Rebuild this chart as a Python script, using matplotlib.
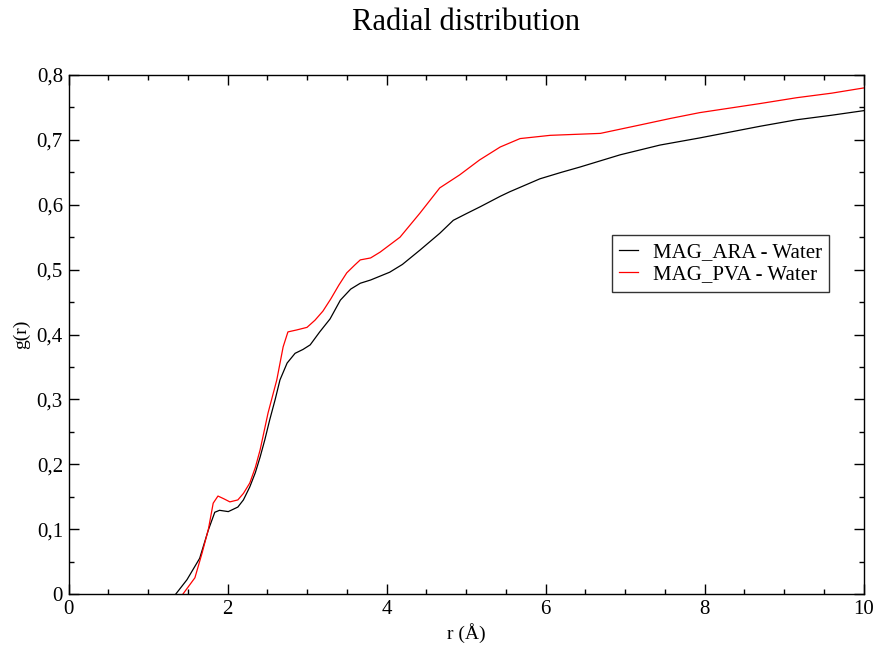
import matplotlib
matplotlib.use("Agg")
import matplotlib.pyplot as plt
from matplotlib.ticker import MultipleLocator, FuncFormatter

plt.rcParams['font.family'] = ['Liberation Serif', 'DejaVu Serif']

# g(r) for MAG_ARA - Water
r_ara = [1.35, 1.49, 1.65, 1.76, 1.84, 1.90, 2.01, 2.13, 2.20, 2.28, 2.35, 2.41, 2.47,
         2.53, 2.60, 2.66, 2.75, 2.85, 2.95, 3.04, 3.16, 3.29, 3.42, 3.55, 3.67, 3.80,
         4.04, 4.20, 4.42, 4.67, 4.84, 5.00, 5.18, 5.43, 5.55, 5.93, 6.20, 6.43, 6.94,
         7.44, 7.94, 8.32, 8.70, 9.16, 9.60, 10.0]
g_ara = [0.0, 0.022, 0.055, 0.099, 0.126, 0.129, 0.127, 0.134, 0.145, 0.165, 0.187,
         0.211, 0.238, 0.268, 0.300, 0.330, 0.356, 0.371, 0.377, 0.384, 0.404, 0.424,
         0.453, 0.470, 0.479, 0.484, 0.496, 0.508, 0.530, 0.556, 0.576, 0.586, 0.597,
         0.613, 0.620, 0.640, 0.650, 0.658, 0.677, 0.692, 0.703, 0.712, 0.721, 0.731,
         0.738, 0.745]

# g(r) for MAG_PVA - Water
r_pva = [1.44, 1.50, 1.59, 1.68, 1.76, 1.82, 1.88, 1.95, 2.03, 2.13, 2.20, 2.28, 2.35,
         2.41, 2.51, 2.62, 2.70, 2.76, 2.87, 3.00, 3.10, 3.20, 3.30, 3.40, 3.50, 3.60,
         3.67, 3.80, 3.92, 4.17, 4.42, 4.67, 4.92, 5.17, 5.43, 5.68, 6.06, 6.69, 7.19,
         7.57, 7.94, 8.32, 8.70, 9.16, 9.60, 10.0]
g_pva = [0.0, 0.010, 0.025, 0.063, 0.100, 0.140, 0.151, 0.147, 0.142, 0.145, 0.155,
         0.171, 0.195, 0.222, 0.279, 0.330, 0.381, 0.404, 0.407, 0.411, 0.422, 0.436,
         0.455, 0.476, 0.495, 0.507, 0.515, 0.518, 0.527, 0.550, 0.587, 0.626, 0.646,
         0.669, 0.689, 0.702, 0.707, 0.710, 0.723, 0.733, 0.742, 0.749, 0.756, 0.765,
         0.772, 0.780]

fig = plt.figure(figsize=(8.77, 6.48), dpi=100)
ax = fig.add_axes([68.5 / 877, 54 / 648, 795 / 877, 519 / 648])

ax.plot(r_ara, g_ara, color='black', lw=0.9, label='MAG_ARA - Water')
ax.plot(r_pva, g_pva, color='red', lw=0.9, label='MAG_PVA - Water')

ax.set_xlim(0, 10)
ax.set_ylim(0, 0.8)
ax.xaxis.set_major_locator(MultipleLocator(2))
ax.xaxis.set_minor_locator(MultipleLocator(0.5))
ax.yaxis.set_major_locator(MultipleLocator(0.1))
ax.yaxis.set_minor_locator(MultipleLocator(0.05))


def comma(v, pos):
    s = f"{v:.1f}".replace('.', ',')
    if s.endswith(',0'):
        s = s[:-2]
    return s


ax.xaxis.set_major_formatter(FuncFormatter(lambda v, p: f"{v:.0f}"))
ax.yaxis.set_major_formatter(FuncFormatter(comma))
ax.tick_params(which='both', direction='in', top=True, right=True,
               width=1.0, labelsize=15)
ax.tick_params(which='major', length=7, pad=4)
ax.tick_params(which='minor', length=3.5)
for sp in ax.spines.values():
    sp.set_linewidth(1.0)

ax.set_xlabel('r (Å)', fontsize=14, labelpad=3)
ax.set_ylabel('g(r)', fontsize=14, labelpad=5)
fig.text(466 / 877, 1 - 22 / 648, 'Radial distribution', ha='center', va='center',
         fontsize=22)

leg = ax.legend(loc='upper left', bbox_to_anchor=((612 - 68.5) / 795, (594 - 235) / 519),
                fontsize=15, frameon=True, fancybox=False, handlelength=0.9,
                handletextpad=0.7, borderpad=0.35, labelspacing=0.15,
                borderaxespad=0)
leg.get_frame().set_edgecolor('black')
leg.get_frame().set_linewidth(1.0)

fig.savefig('out.png', dpi=100)
